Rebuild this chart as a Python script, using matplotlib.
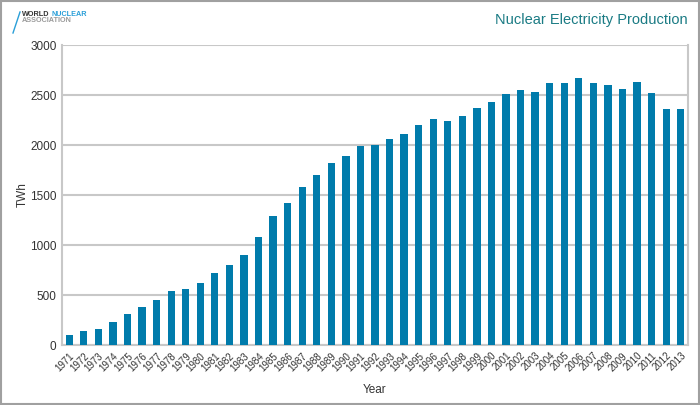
import numpy as np
import matplotlib.pyplot as plt
from matplotlib.lines import Line2D
from matplotlib.patches import Rectangle

plt.rcParams['font.family'] = ['Liberation Sans', 'DejaVu Sans']

# nuclear electricity production, TWh
years = list(range(1971, 2014))
twh = [100, 140, 163, 230, 307, 377, 450, 540, 557, 620,
       723, 803, 897, 1077, 1287, 1417, 1577, 1703, 1820, 1887,
       1990, 2003, 2057, 2107, 2200, 2263, 2237, 2290, 2370, 2430,
       2507, 2550, 2527, 2617, 2617, 2667, 2617, 2600, 2560, 2630,
       2520, 2357, 2360]
yticks = [0, 500, 1000, 1500, 2000, 2500, 3000]

bar_col = '#007bab'
grid_col = '#c8c8c8'
text_col = '#333333'

fig = plt.figure(figsize=(7, 4.05), dpi=100)
ax = fig.add_axes([62 / 700, 1 - 345 / 405, 626 / 700, 300 / 405])

x = np.arange(len(years))
ax.bar(x, twh, width=0.5, color=bar_col, zorder=3)

ax.set_xlim(-0.5, len(years) - 0.5)
ax.set_ylim(0, 3000)
ax.set_yticks(yticks)
ax.set_yticklabels([str(v) for v in yticks], fontsize=8.5, color=text_col)
ax.set_xticks(x)
ax.set_xticklabels([str(y) for y in years], rotation=45, ha='right',
                   rotation_mode='anchor', fontsize=7, color=text_col)
ax.tick_params(axis='both', length=0, pad=4)
ax.tick_params(axis='x', pad=4)
ax.grid(axis='y', color=grid_col, linewidth=1.5, zorder=0)
for s in ['left', 'right', 'bottom']:
    ax.spines[s].set_color(grid_col)
    ax.spines[s].set_linewidth(1.5)
ax.spines['top'].set_visible(False)

ax.set_xlabel('Year', fontsize=8.5, color=text_col, labelpad=8)
ax.set_ylabel('TWh', fontsize=8.5, color=text_col, labelpad=1)

# title
fig.text(688 / 700, 1 - 20 / 405, 'Nuclear Electricity Production',
         ha='right', va='center', fontsize=10.5, color='#1a7b84')

# logo
fig.add_artist(Line2D([13 / 700, 20 / 700], [1 - 33 / 405, 1 - 12 / 405],
                      color='#2a9fd8', linewidth=1))
fig.text(49 / 700, 1 - 15 / 405, 'WORLD', fontsize=5.2, fontweight='bold',
         color='#333333', va='center', ha='right')
fig.text(51 / 700, 1 - 15 / 405, 'NUCLEAR', fontsize=5.2, fontweight='bold',
         color='#2a9fd8', va='center', ha='left')
fig.text(22 / 700, 1 - 21 / 405, 'ASSOCIATION', fontsize=5.2, fontweight='bold',
         color='#9a9a9a', va='center', ha='left')

# outer frame
fig.add_artist(Rectangle((0.001, 0.002), 0.997, 0.996, transform=fig.transFigure,
                         fill=False, edgecolor='#a0a0a0', linewidth=1.5))

fig.savefig('out.png', dpi=100)
